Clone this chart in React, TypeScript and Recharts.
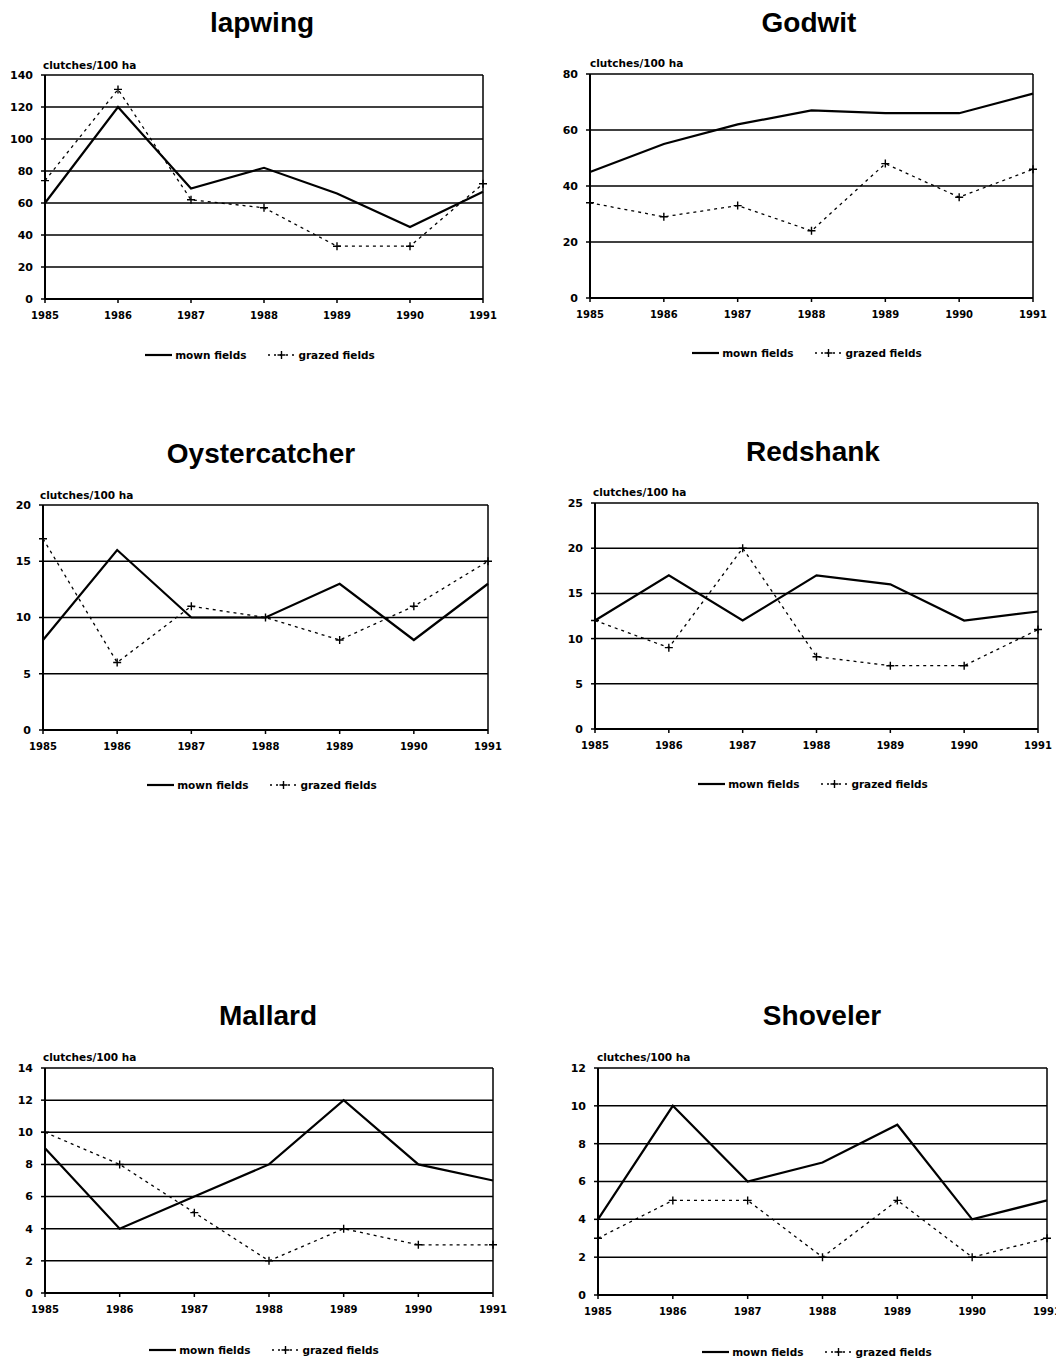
import React from 'react';
import { LineChart, Line, XAxis, YAxis, CartesianGrid, ReferenceLine, Legend } from 'recharts';

const YEARS = ['1985', '1986', '1987', '1988', '1989', '1990', '1991'];

const lapwingMown = [60, 120, 69, 82, 66, 45, 67];
const lapwingGrazed = [74, 131, 62, 57, 33, 33, 72];
const lapwingTicks = [0, 20, 40, 60, 80, 100, 120, 140];

const godwitMown = [45, 55, 62, 67, 66, 66, 73];
const godwitGrazed = [34, 29, 33, 24, 48, 36, 46];
const godwitTicks = [0, 20, 40, 60, 80];

const oysterMown = [8, 16, 10, 10, 13, 8, 13];
const oysterGrazed = [17, 6, 11, 10, 8, 11, 15];
const oysterTicks = [0, 5, 10, 15, 20];

const redshankMown = [12, 17, 12, 17, 16, 12, 13];
const redshankGrazed = [12, 9, 20, 8, 7, 7, 11];
const redshankTicks = [0, 5, 10, 15, 20, 25];

const mallardMown = [9, 4, 6, 8, 12, 8, 7];
const mallardGrazed = [10, 8, 5, 2, 4, 3, 3];
const mallardTicks = [0, 2, 4, 6, 8, 10, 12, 14];

const shovelerMown = [4, 10, 6, 7, 9, 4, 5];
const shovelerGrazed = [3, 5, 5, 2, 5, 2, 3];
const shovelerTicks = [0, 2, 4, 6, 8, 10, 12];

const UNIT_LABEL = 'clutches/100 ha';
const MOWN_NAME = 'mown fields';
const GRAZED_NAME = 'grazed fields';
const SERIES_ORDER = ['mown', 'grazed'];

type Spec = {
  title: string;
  mown: number[];
  grazed: number[];
  ticks: number[];
  L: number; R: number; T: number; B: number;
  titleX: number; titleBase: number;
  unitX: number; unitY: number;
  legX: number; legY: number;
};

const specs: Spec[] = [
  { title: 'lapwing', mown: lapwingMown, grazed: lapwingGrazed, ticks: lapwingTicks,
    L: 45, R: 483, T: 75, B: 299, titleX: 262, titleBase: 33, unitX: 43, unitY: 65, legX: 260, legY: 355 },
  { title: 'Godwit', mown: godwitMown, grazed: godwitGrazed, ticks: godwitTicks,
    L: 590, R: 1033, T: 74, B: 298, titleX: 809, titleBase: 33, unitX: 590, unitY: 63, legX: 807, legY: 353 },
  { title: 'Oystercatcher', mown: oysterMown, grazed: oysterGrazed, ticks: oysterTicks,
    L: 43, R: 488, T: 505, B: 730, titleX: 261, titleBase: 464, unitX: 40, unitY: 495, legX: 262, legY: 785 },
  { title: 'Redshank', mown: redshankMown, grazed: redshankGrazed, ticks: redshankTicks,
    L: 595, R: 1038, T: 503, B: 729, titleX: 813, titleBase: 462, unitX: 593, unitY: 492, legX: 813, legY: 784 },
  { title: 'Mallard', mown: mallardMown, grazed: mallardGrazed, ticks: mallardTicks,
    L: 45, R: 493, T: 1068, B: 1293, titleX: 268, titleBase: 1026, unitX: 43, unitY: 1057, legX: 264, legY: 1350 },
  { title: 'Shoveler', mown: shovelerMown, grazed: shovelerGrazed, ticks: shovelerTicks,
    L: 598, R: 1047, T: 1068, B: 1295, titleX: 822, titleBase: 1026, unitX: 597, unitY: 1057, legX: 817, legY: 1352 },
];

const SMALL_FONT = 'DejaVu Sans';

const PlusDot = (props: any) => {
  const { cx, cy } = props;
  if (cx == null || cy == null) return null;
  return <path d={`M${cx - 4},${cy}h8M${cx},${cy - 4}v8`} stroke="#000" strokeWidth={1.4} fill="none" />;
};

const LegendContent = (props: any) => {
  const payload = [...(props.payload || [])].sort(
    (a: any, b: any) => SERIES_ORDER.indexOf(a.dataKey) - SERIES_ORDER.indexOf(b.dataKey)
  );
  return (
    <div style={{ display: 'flex', justifyContent: 'center', alignItems: 'center', fontFamily: SMALL_FONT, fontWeight: 'bold', fontSize: 10.5, color: '#000', lineHeight: '12px' }}>
      {payload.map((p: any, i: number) => {
        const dashed = p.dataKey === 'grazed';
        return (
          <div key={i} style={{ display: 'flex', alignItems: 'center', marginLeft: i === 0 ? 0 : 22 }}>
            <svg width={27} height={12} style={{ display: 'block' }}>
              {dashed ? (
                <g>
                  <line x1={0} y1={6} x2={27} y2={6} stroke="#000" strokeWidth={1.3} strokeDasharray="2 4" />
                  <path d="M9.5,6h8M13.5,2v8" stroke="#000" strokeWidth={1.4} />
                </g>
              ) : (
                <line x1={0} y1={6} x2={27} y2={6} stroke="#000" strokeWidth={2.2} />
              )}
            </svg>
            <span style={{ marginLeft: 3, whiteSpace: 'nowrap' }}>{p.value}</span>
          </div>
        );
      })}
    </div>
  );
};

const YW = 45;
const MT = 12;
const MR = 30;
const XH = 80;

const Panel = ({ s }: { s: Spec }) => {
  const data = YEARS.map((y, i) => ({ year: y, mown: s.mown[i], grazed: s.grazed[i] }));
  const plotW = s.R - s.L;
  const plotH = s.B - s.T;
  const width = YW + plotW + MR;
  const height = MT + plotH + XH;
  const left = s.L - YW;
  const top = s.T - MT;
  const yMax = s.ticks[s.ticks.length - 1];
  const legW = 300;
  return (
    <>
      <div style={{ position: 'absolute', left: s.titleX - 200, width: 400, top: s.titleBase - 23.7, textAlign: 'center', fontFamily: 'Liberation Sans', fontWeight: 'bold', fontSize: 28, lineHeight: '28px', color: '#000' }}>
        {s.title}
      </div>
      <div style={{ position: 'absolute', left: s.unitX, top: s.unitY - 6, fontFamily: SMALL_FONT, fontWeight: 'bold', fontSize: 10.5, lineHeight: '12px', color: '#000', whiteSpace: 'nowrap' }}>
        {UNIT_LABEL}
      </div>
      <div style={{ position: 'absolute', left, top }}>
        <LineChart width={width} height={height} data={data} margin={{ top: MT, right: MR, bottom: 0, left: 0 }}>
          <CartesianGrid horizontal vertical={false} stroke="#000" strokeWidth={1.5} strokeDasharray="" />
          <XAxis
            dataKey="year"
            height={XH}
            interval={0}
            axisLine={{ stroke: '#000', strokeWidth: 2 }}
            tickLine={{ stroke: '#000', strokeWidth: 1.5 }}
            tickSize={4}
            tickMargin={9}
            tick={{ fontFamily: SMALL_FONT, fontWeight: 'bold', fontSize: 10, fill: '#000' }}
          />
          <YAxis
            width={YW}
            domain={[0, yMax]}
            ticks={s.ticks}
            interval={0}
            axisLine={{ stroke: '#000', strokeWidth: 2 }}
            tickLine={{ stroke: '#000', strokeWidth: 1.5 }}
            tickSize={4}
            tickMargin={8}
            tick={{ fontFamily: SMALL_FONT, fontWeight: 'bold', fontSize: 11, fill: '#000' }}
          />
          <ReferenceLine x={YEARS[YEARS.length - 1]} stroke="#000" strokeWidth={1.5} />
          <Line type="linear" dataKey="mown" name={MOWN_NAME} stroke="#000" strokeWidth={2.2} dot={false} activeDot={false} isAnimationActive={false} />
          <Line type="linear" dataKey="grazed" name={GRAZED_NAME} stroke="#000" strokeWidth={1.3} strokeDasharray="3 4" dot={<PlusDot />} activeDot={false} isAnimationActive={false} />
          <Legend
            layout="horizontal"
            verticalAlign="middle"
            align="center"
            content={<LegendContent />}
            wrapperStyle={{ top: s.legY - top - 6, left: s.legX - left - legW / 2, width: legW, height: 12 }}
          />
        </LineChart>
      </div>
    </>
  );
}

export default function App() {
  return (
    <div style={{ position: 'absolute', left: 0, top: 0, width: 1056, height: 1359, overflow: 'hidden', background: '#fff' }}>
      {specs.map((s) => (
        <Panel key={s.title} s={s} />
      ))}
    </div>
  );
}
